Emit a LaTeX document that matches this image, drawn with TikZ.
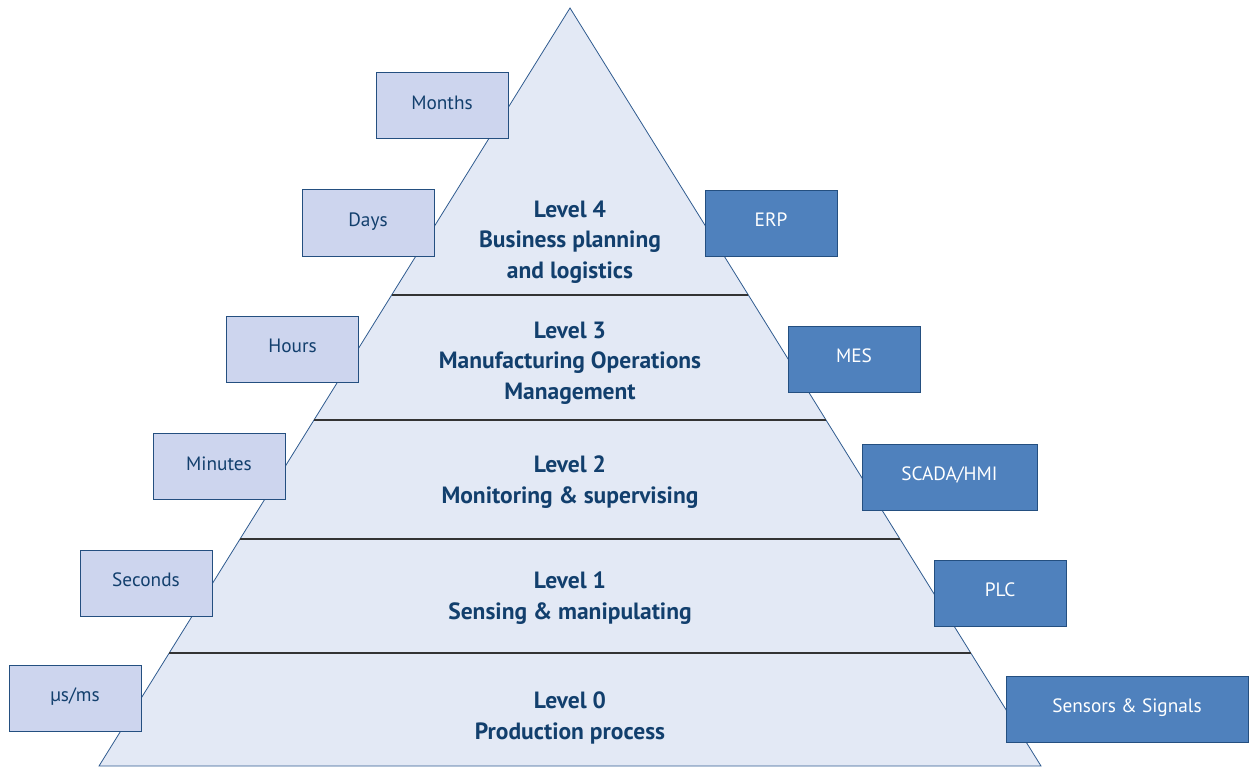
\documentclass[tikz,border=0pt]{standalone}
\usepackage{fontspec}
\setmainfont{PT Sans}
\usetikzlibrary{calc}
\definecolor{trifill}{HTML}{E3E9F5}
\definecolor{triline}{HTML}{2F5B8F}
\definecolor{lightbox}{HTML}{CDD5EE}
\definecolor{darkbox}{HTML}{4F81BD}
\definecolor{boxline}{HTML}{244F80}
\definecolor{txtblue}{HTML}{123F6D}
\definecolor{divline}{HTML}{333333}
\tikzset{
  tbox/.style={draw=boxline, line width=1pt, minimum height=66pt, inner sep=0pt,
    text height=13pt, text depth=6pt, font=\fontsize{19.3}{20}\selectfont},
  lbox/.style={tbox, fill=lightbox, text=txtblue, minimum width=132pt},
  dbox/.style={tbox, fill=darkbox, text=white},
  lvl/.style={align=center, text=txtblue, font=\fontsize{23.5}{30.5}\selectfont\bfseries},
  divider/.style={draw=divline, line width=1.6pt}
}
\begin{document}
\begin{tikzpicture}[x=1pt,y=-1pt]
\useasboundingbox (0,0) rectangle (1249,767);
\coordinate (apex) at (570,8);
\coordinate (bl) at (99,766);
\coordinate (br) at (1041,766);
\draw[fill=trifill, draw=triline, line width=0.8pt] (apex) -- (bl) -- (br) -- cycle;
% dividers
\foreach \t/\n in {0.3786/a,0.5435/b,0.7005/c,0.8509/d}{
  \coordinate (L\n) at ($(apex)!\t!(bl)$);
  \coordinate (R\n) at ($(apex)!\t!(br)$);
  \draw[divider] (L\n) -- (R\n);
}
% level texts
\node[lvl] (l4) at (570,242) {Level 4\\Business planning\\and logistics};
\node[lvl] (l3) at (570,363) {Level 3\\Manufacturing Operations\\Management};
\node[lvl] (l2) at (570,482) {Level 2\\Monitoring \& supervising};
\node[lvl] (l1) at (570,598) {Level 1\\Sensing \& manipulating};
\node[lvl] (l0) at (570,718) {Level 0\\Production process};
% left boxes
\node[lbox] (months) at (442,106) {Months};
\node[lbox] (days) at (368,223) {Days};
\node[lbox] (hours) at (292.5,349) {Hours};
\node[lbox] (minutes) at (219,466.5) {Minutes};
\node[lbox] (seconds) at (146,583) {Seconds};
\node[lbox] (us) at (75,698) {µs/ms};
% right boxes
\node[dbox, minimum width=132pt] (erp) at (771,223.5) {ERP};
\node[dbox, minimum width=132pt] (mes) at (854,359) {MES};
\node[dbox, minimum width=175pt] (scada) at (949.5,477) {SCADA/HMI};
\node[dbox, minimum width=132pt] (plc) at (1000,593) {PLC};
\node[dbox, minimum width=242pt] (sens) at (1127,709) {Sensors \& Signals};
\end{tikzpicture}
\end{document}
